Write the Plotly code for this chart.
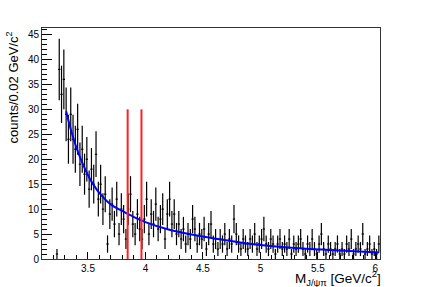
import numpy as np
import plotly.graph_objects as go

# ---------------- data ----------------
bin_width = 0.02
first_center = 3.23
counts = [1, 38, 33, 36, 29, 24, 29, 24, 22, 26, 19, 22, 17, 20, 14, 18, 15, 21, 12, 15,
          10, 13, 3, 9, 11, 7, 12, 5, 10, 8, 4, 10, 13, 7, 5, 9, 6, 4, 8, 12,
          5, 9, 7, 11, 6, 8, 10, 4, 9, 12, 7, 9, 5, 7, 4, 6, 3, 5, 4, 8,
          6, 3, 5, 4, 6, 2, 5, 7, 3, 4, 2, 4, 3, 5, 2, 4, 3, 8, 5, 3,
          2, 4, 3, 2, 4, 3, 5, 2, 3, 4, 6, 3, 2, 4, 3, 1, 3, 4, 2, 3,
          2, 4, 1, 3, 2, 3, 4, 2, 1, 3, 2, 4, 2, 1, 3, 5, 2, 1, 3, 2,
          1, 2, 3, 1, 2, 1, 3, 2, 4, 1, 2, 3, 2, 5, 1, 2, 3, 1, 2, 1, 3]

fit_x = [3.31, 3.35, 3.40, 3.45, 3.50, 3.55, 3.60, 3.70, 3.80, 3.90, 4.00, 4.20,
         4.40, 4.60, 4.80, 5.00, 5.30, 5.60, 6.03]
fit_y = [29.6, 26.0, 22.3, 19.3, 16.8, 14.8, 13.2, 10.9, 9.6, 8.4, 7.4, 5.9,
         4.9, 4.1, 3.4, 2.8, 2.2, 1.8, 1.3]

line_x = [3.845, 3.965]
line_top = 30.0

x_range = [3.1, 6.04]
y_range = [0, 46.3]

# ---------------- derived ----------------
counts = np.array(counts, dtype=float)
centers = first_center + bin_width * np.arange(len(counts))
mask = counts > 0
xc = centers[mask]
yc = counts[mask]
err = np.sqrt(yc)

fig = go.Figure()

fig.add_trace(go.Scatter(
    x=xc, y=yc, mode="markers",
    marker=dict(size=1, color="black", opacity=0),
    error_y=dict(type="data", array=err, color="black", thickness=1.2, width=0),
    error_x=dict(type="constant", value=bin_width / 2, color="black", thickness=1.2, width=0),
    showlegend=False, hoverinfo="skip",
))

fig.add_trace(go.Scatter(
    x=fit_x, y=fit_y, mode="lines",
    line=dict(color="#0000ff", width=2, shape="spline"),
    showlegend=False,
))

for lx in line_x:
    fig.add_trace(go.Scatter(
        x=[lx, lx], y=[0, line_top], mode="lines",
        line=dict(color="#ff2020", width=2),
        showlegend=False,
    ))

font_family = "Liberation Sans, Arial, Helvetica, sans-serif"

fig.update_layout(
    width=423, height=287,
    margin=dict(l=42, r=43, t=28, b=28),
    paper_bgcolor="white", plot_bgcolor="white",
    font=dict(family=font_family, size=10, color="black"),
    xaxis=dict(
        range=x_range, showgrid=False, zeroline=False,
        showline=True, linecolor="#333333", linewidth=1, mirror=True,
        ticks="inside", ticklen=7, tickcolor="black", tickwidth=1,
        tick0=3.5, dtick=0.5,
        minor=dict(ticks="inside", ticklen=4, dtick=0.1, tick0=3.5, tickcolor="black", showgrid=False),
        tickfont=dict(size=10, family=font_family),
    ),
    yaxis=dict(
        range=y_range, showgrid=False, zeroline=False,
        showline=True, linecolor="#333333", linewidth=1, mirror=True,
        ticks="inside", ticklen=10, tickcolor="black", tickwidth=1,
        tick0=0, dtick=5,
        minor=dict(ticks="inside", ticklen=5, dtick=1, tickcolor="black", showgrid=False),
        tickfont=dict(size=10, family=font_family),
    ),
    annotations=[
        dict(text="counts/0.02 GeV/c<sup>2</sup>", textangle=-90,
             xref="paper", yref="paper", x=-0.088, y=0.995,
             xanchor="center", yanchor="top", showarrow=False,
             font=dict(size=13, family=font_family)),
        dict(text="M<sub>J/ψπ</sub> [GeV/c<sup>2</sup>]",
             xref="paper", yref="paper", x=1.009, y=-0.083,
             xanchor="right", yanchor="middle", showarrow=False,
             font=dict(size=13.5, family=font_family)),
    ],
)

fig.write_html(
    "out.html",
    config={"displayModeBar": False},
    post_script="document.body.style.margin='0';document.body.style.overflow='hidden';",
)
